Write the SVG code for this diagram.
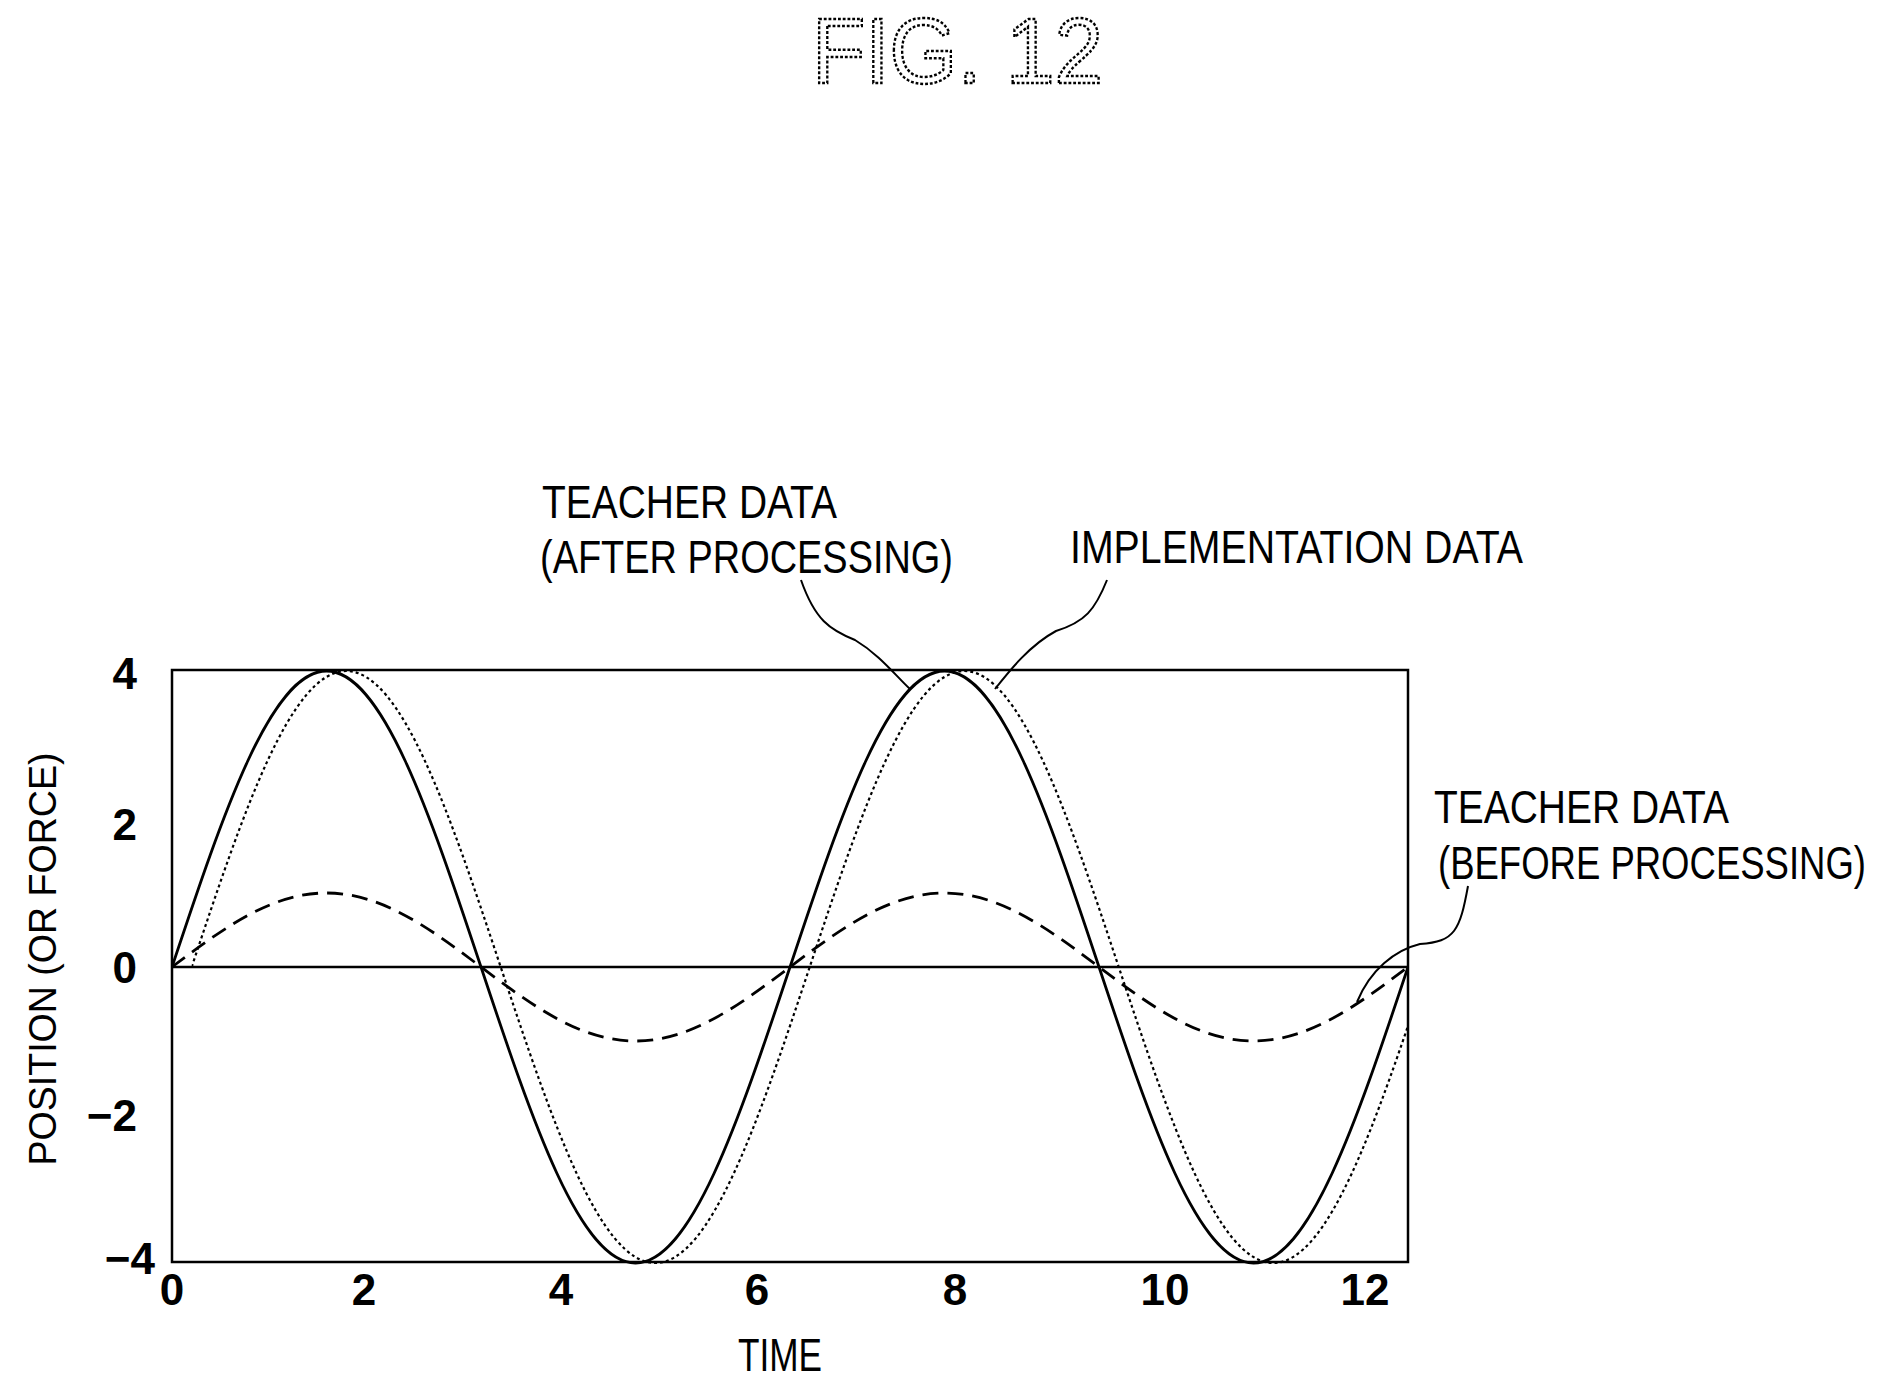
<svg xmlns="http://www.w3.org/2000/svg" width="1893" height="1386" viewBox="0 0 1893 1386">
<style>
.t{font-family:"Liberation Sans",Arial,sans-serif;fill:#000}
.lab{font-size:46px}
.tick{font-size:44px;font-weight:bold}
.c{fill:none;stroke:#000}
</style>
<defs>
<clipPath id="plot"><rect x="172" y="668" width="1236" height="597"/></clipPath>
<clipPath id="plotd"><rect x="191.7" y="668" width="1216.3" height="597"/></clipPath>
</defs>
<rect width="1893" height="1386" fill="#fff"/>
<text class="t" x="812" y="83" font-size="92" textLength="291" lengthAdjust="spacingAndGlyphs" style="fill:#fff;stroke:#000;stroke-width:2.5;stroke-dasharray:3 2">FIG. 12</text>
<g id="plot-frame">
<rect x="172" y="670" width="1236" height="592" class="c" stroke-width="2.5"/>
<line x1="172" y1="967" x2="1408" y2="967" class="c" stroke-width="2.5"/>
</g>
<g id="curves">
<path id="teacher-after" clip-path="url(#plot)" class="c" stroke-width="2.8" d="M172,967 C223.65,811.6 271.18,671 326.5,671 S429.36,811.6 481,967 S580.19,1263 635.51,1263 S738.37,1122.4 790.02,967 S889.19,671 944.52,671 S1047.38,811.6 1099.02,967 S1198.2,1263 1253.53,1263 S1356.38,1122.4 1408.03,967"/>
<g clip-path="url(#plotd)"><path id="implementation" transform="translate(19.7,0)" class="c" stroke-width="2.2" stroke-dasharray="3 3" d="M172,967 C223.65,811.6 271.18,671 326.5,671 S429.36,811.6 481,967 S580.19,1263 635.51,1263 S738.37,1122.4 790.02,967 S889.19,671 944.52,671 S1047.38,811.6 1099.02,967 S1198.2,1263 1253.53,1263 S1356.38,1122.4 1408.03,967 S1460,811.6 1520,671"/></g>
<line x1="172" y1="967" x2="192" y2="967" class="c" stroke-width="2.2" stroke-dasharray="3 3"/>
<path id="teacher-before" clip-path="url(#plot)" class="c" stroke-width="2.8" stroke-dasharray="16 9" d="M172,967 C223.65,928.1 271.18,893 326.5,893 S429.36,928.1 481,967 S580.19,1041 635.51,1041 S738.37,1005.9 790.02,967 S889.19,893 944.52,893 S1047.38,928.1 1099.02,967 S1198.2,1041 1253.53,1041 S1356.38,1005.9 1408.03,967"/>
</g>
<g id="leaders" class="c" stroke-width="2">
<path d="M801,580 C815,620 830,630 855,640 C880,655 895,675 910,689"/>
<path d="M1107,580 C1095,610 1085,622 1056,631 C1030,645 1010,670 995,689"/>
<path d="M1468,886 C1460,930 1455,942 1420,944 C1395,950 1370,970 1357,1002"/>
</g>
<g id="labels">
<text class="t lab" x="542" y="518" textLength="295" lengthAdjust="spacingAndGlyphs">TEACHER DATA</text>
<text class="t lab" x="540" y="573" textLength="413" lengthAdjust="spacingAndGlyphs">(AFTER PROCESSING)</text>
<text class="t lab" x="1070" y="563" textLength="453" lengthAdjust="spacingAndGlyphs">IMPLEMENTATION DATA</text>
<text class="t lab" x="1434" y="823" textLength="295" lengthAdjust="spacingAndGlyphs">TEACHER DATA</text>
<text class="t lab" x="1438" y="879" textLength="428" lengthAdjust="spacingAndGlyphs">(BEFORE PROCESSING)</text>
</g>
<g id="y-ticks" class="t tick" text-anchor="end">
<text x="137" y="689">4</text>
<text x="137" y="840">2</text>
<text x="137" y="983">0</text>
<text x="137" y="1131">−2</text>
<text x="155" y="1274">−4</text>
</g>
<g id="x-ticks" class="t tick" text-anchor="middle">
<text x="172" y="1305">0</text>
<text x="364" y="1305">2</text>
<text x="561" y="1305">4</text>
<text x="757" y="1305">6</text>
<text x="955" y="1305">8</text>
<text x="1165" y="1305">10</text>
<text x="1365" y="1305">12</text>
</g>
<text class="t" x="780" y="1371" font-size="46" text-anchor="middle" textLength="84" lengthAdjust="spacingAndGlyphs">TIME</text>
<text class="t" transform="translate(56,959) rotate(-90)" font-size="38" text-anchor="middle" textLength="413" lengthAdjust="spacingAndGlyphs">POSITION (OR FORCE)</text>
</svg>
